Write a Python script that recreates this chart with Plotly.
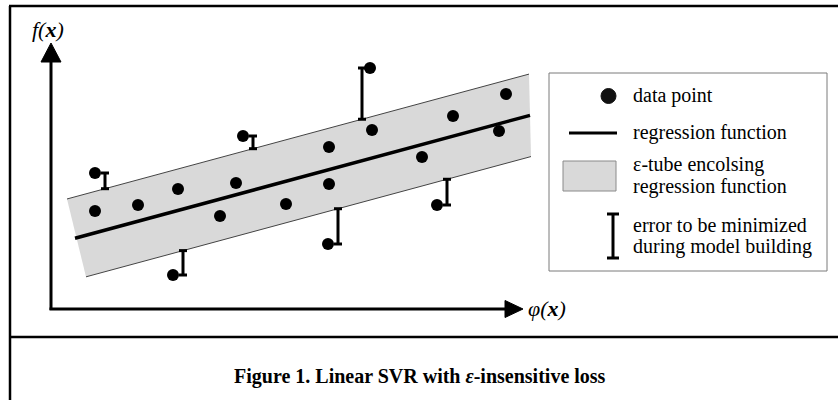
import plotly.graph_objects as go

# ---------------- data (diagram units: phi(x) horizontal, f(x) vertical) ----------------
point_x = [4.4, 4.4, 8.7, 12.7, 12.2, 16.9, 18.5, 19.2, 23.5, 27.8, 27.8, 27.7, 31.9, 32.1, 37.1, 38.6, 40.2, 44.8, 45.5]
point_y = [13.6, 9.8, 10.4, 12.0, 3.4, 9.3, 12.6, 17.3, 10.5, 16.2, 12.5, 6.5, 24.1, 17.9, 15.2, 10.4, 19.3, 17.8, 21.5]

reg_intercept = 6.42
reg_slope = 0.2703
epsilon = 4.15
reg_x = [2.4, 47.9]
tube_upper_x = [1.6, 47.8]
tube_lower_x = [3.5, 48.0]

# side on which each error bar is drawn relative to its point (+1 right, -1 left)
err_side = {0: 1, 4: 1, 7: 1, 11: 1, 12: -0.8, 15: 1}

legend_labels = ["data point", "regression function",
                 "ε-tube encolsing", "regression function",
                 "error to be minimized", "during model building"]
caption = "<b>Figure 1. Linear SVR with <i>ε</i>-insensitive loss</b>"

W, H = 838, 400
SERIF = "Liberation Serif, Times New Roman, serif"


def f(x):
    return reg_intercept + reg_slope * x


def px(x):
    return x / W


def py(y):
    return 1 - y / H


fig = go.Figure()

# epsilon tube
ux0, ux1 = tube_upper_x
lx0, lx1 = tube_lower_x
tube_x = [ux0, ux1, lx1, lx0, ux0]
tube_y = [f(ux0) + epsilon, f(ux1) + epsilon, f(lx1) - epsilon, f(lx0) - epsilon, f(ux0) + epsilon]
fig.add_trace(go.Scatter(x=tube_x, y=tube_y, mode="lines", fill="toself",
                         fillcolor="#d9d9d9", line=dict(width=0, color="rgba(0,0,0,0)"),
                         hoverinfo="skip"))
fig.add_trace(go.Scatter(x=tube_upper_x, y=[f(v) + epsilon for v in tube_upper_x], mode="lines",
                         line=dict(color="#444444", width=1), hoverinfo="skip"))
fig.add_trace(go.Scatter(x=tube_lower_x, y=[f(v) - epsilon for v in tube_lower_x], mode="lines",
                         line=dict(color="#444444", width=1), hoverinfo="skip"))

# regression line
fig.add_trace(go.Scatter(x=reg_x, y=[f(v) for v in reg_x], mode="lines",
                         line=dict(color="black", width=3.5), hoverinfo="skip"))

# error bars for points outside the tube
ex, ey = [], []
cap = 0.4
for i, side in err_side.items():
    xb = point_x[i] + side * 1.0
    yp = point_y[i]
    edge = f(xb) + epsilon if yp > f(point_x[i]) else f(xb) - epsilon
    ex += [xb, xb, None, xb - cap, xb + cap, None, xb - cap, xb + cap, None]
    ey += [yp, edge, None, yp, yp, None, edge, edge, None]
fig.add_trace(go.Scatter(x=ex, y=ey, mode="lines", line=dict(color="black", width=3),
                         hoverinfo="skip"))

# data points
fig.add_trace(go.Scatter(x=point_x, y=point_y, mode="markers",
                         marker=dict(color="black", size=12), hoverinfo="skip"))

shapes = []
# axes with arrowheads (diagram units)
shapes.append(dict(type="line", xref="x", yref="y", x0=0, y0=-0.1, x1=0, y1=24.9,
                   line=dict(color="black", width=3)))
shapes.append(dict(type="line", xref="x", yref="y", x0=-0.15, y0=0, x1=45.6, y1=0,
                   line=dict(color="black", width=3)))
shapes.append(dict(type="path", xref="x", yref="y", path="M 0,26.6 L -1.0,24.7 L 1.0,24.7 Z",
                   fillcolor="black", line=dict(color="black", width=1)))
shapes.append(dict(type="path", xref="x", yref="y", path="M 47.2,0 L 45.4,0.85 L 45.4,-0.85 Z",
                   fillcolor="black", line=dict(color="black", width=1)))

# outer frame and caption separator (pixels -> paper)
frame = dict(color="black", width=2.5)
shapes.append(dict(type="line", xref="paper", yref="paper", x0=px(10), y0=py(400), x1=px(10), y1=py(6), line=frame))
shapes.append(dict(type="line", xref="paper", yref="paper", x0=px(9), y0=py(6), x1=px(838), y1=py(6), line=frame))
shapes.append(dict(type="line", xref="paper", yref="paper", x0=px(9), y0=py(337), x1=px(838), y1=py(337), line=frame))

# legend box
shapes.append(dict(type="rect", xref="paper", yref="paper", x0=px(549), y0=py(271), x1=px(827), y1=py(73),
                   line=dict(color="#7a7a7a", width=1), fillcolor="white"))
shapes.append(dict(type="circle", xref="paper", yref="paper", x0=px(601), y0=py(103.5), x1=px(616), y1=py(88.5),
                   fillcolor="#111111", line=dict(color="#111111", width=1)))
shapes.append(dict(type="line", xref="paper", yref="paper", x0=px(569), y0=py(133), x1=px(617), y1=py(133),
                   line=dict(color="black", width=3)))
shapes.append(dict(type="rect", xref="paper", yref="paper", x0=px(563), y0=py(191), x1=px(616), y1=py(161),
                   fillcolor="#d9d9d9", line=dict(color="#8a8a8a", width=1)))
shapes.append(dict(type="line", xref="paper", yref="paper", x0=px(613), y0=py(214), x1=px(613), y1=py(258),
                   line=dict(color="black", width=3)))
shapes.append(dict(type="line", xref="paper", yref="paper", x0=px(607), y0=py(214), x1=px(619), y1=py(214),
                   line=dict(color="black", width=3)))
shapes.append(dict(type="line", xref="paper", yref="paper", x0=px(607), y0=py(258), x1=px(619), y1=py(258),
                   line=dict(color="black", width=3)))

annotations = []
legend_y = [96, 133, 165.5, 187.5, 225.5, 247.5]
for lab, yy in zip(legend_labels, legend_y):
    annotations.append(dict(text=lab, xref="paper", yref="paper", x=px(631), y=py(yy - 1),
                            xanchor="left", yanchor="middle", showarrow=False,
                            font=dict(family=SERIF, size=20, color="black")))

annotations.append(dict(text="<i>f(<b>x</b>)</i>", xref="paper", yref="paper", x=px(48), y=py(29),
                        xanchor="center", yanchor="middle", showarrow=False,
                        font=dict(family=SERIF, size=22, color="black")))
annotations.append(dict(text="<i>φ(<b>x</b>)</i>", xref="paper", yref="paper", x=px(526), y=py(308),
                        xanchor="left", yanchor="middle", showarrow=False,
                        font=dict(family=SERIF, size=22, color="black")))
annotations.append(dict(text=caption, xref="paper", yref="paper", x=px(420), y=py(376),
                        xanchor="center", yanchor="middle", showarrow=False,
                        font=dict(family=SERIF, size=20, color="black")))

fig.update_layout(
    width=W, height=H, margin=dict(l=0, r=0, t=0, b=0),
    paper_bgcolor="white", plot_bgcolor="white", showlegend=False,
    xaxis=dict(range=[-5.1, 78.7], visible=False, fixedrange=True),
    yaxis=dict(range=[-9.1, 30.9], visible=False, fixedrange=True),
    shapes=shapes, annotations=annotations,
)

fig.write_html("out.html", config={"displayModeBar": False},
               post_script="document.body.style.margin='0';document.body.style.overflow='hidden';")
